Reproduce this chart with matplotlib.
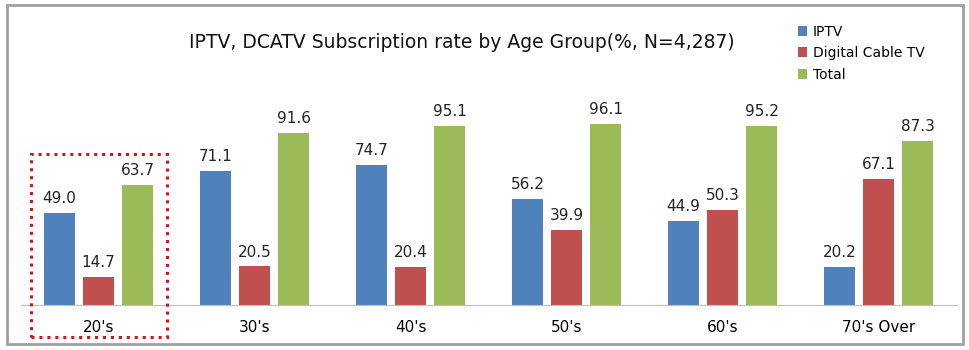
import numpy as np
import matplotlib.pyplot as plt
from matplotlib.patches import Rectangle

groups = ["20's", "30's", "40's", "50's", "60's", "70's Over"]
iptv = [49.0, 71.1, 74.7, 56.2, 44.9, 20.2]
dcatv = [14.7, 20.5, 20.4, 39.9, 50.3, 67.1]
total = [63.7, 91.6, 95.1, 96.1, 95.2, 87.3]
series_names = ['IPTV', 'Digital Cable TV', 'Total']
colors = ['#4F81BD', '#C0504D', '#9BBB59']

fig = plt.figure(figsize=(9.69, 3.5), dpi=100)
ax = fig.add_axes([20.5/969, 45/350, 936/969, 225.6/350])

x = np.arange(len(groups))
w = 0.2
off = 0.25
handles = []
for k, (vals, c) in enumerate(zip([iptv, dcatv, total], colors)):
    pos = x + (k - 1)*off
    b = ax.bar(pos, vals, w, color=c, label=series_names[k], zorder=2)
    handles.append(b)
    for p, v in zip(pos, vals):
        ax.annotate('%.1f' % v, (p, v), xytext=(0, 5), textcoords='offset points',
                    ha='center', va='bottom', fontsize=11, color='#222222')

ax.set_xlim(-0.5, 5.5)
ax.set_ylim(0, 120)
ax.set_yticks([])
ax.set_xticks(x)
ax.set_xticklabels(groups, fontsize=11)
ax.tick_params(axis='x', length=0, pad=11)
for s in ['top', 'right', 'left']:
    ax.spines[s].set_visible(False)
ax.spines['bottom'].set_color('#bfbfbf')

fig.text(462/969, 1 - 42/350, 'IPTV, DCATV Subscription rate by Age Group(%, N=4,287)',
         ha='center', va='center', fontsize=13.5, color='#111111')

leg = fig.legend(handles=handles, loc='upper left', bbox_to_anchor=(792/969, 1 - 19/350),
                 frameon=False, fontsize=10, handlelength=0.7, handleheight=0.7,
                 handletextpad=0.4, labelspacing=0.55, borderaxespad=0)

# dotted box around the 20's group
fig.patches.append(Rectangle((31/969, 1 - 337/350), 136/969, 183/350,
                             transform=fig.transFigure, fill=False,
                             edgecolor='#d8101c', linestyle=(0, (1, 1.6)), linewidth=2.2))
# outer frame
fig.patches.append(Rectangle((7/969, 1 - 344/350), 956/969, 339/350,
                             transform=fig.transFigure, fill=False,
                             edgecolor='#a0a0a0', linewidth=2))

fig.savefig('out.png', dpi=100)
